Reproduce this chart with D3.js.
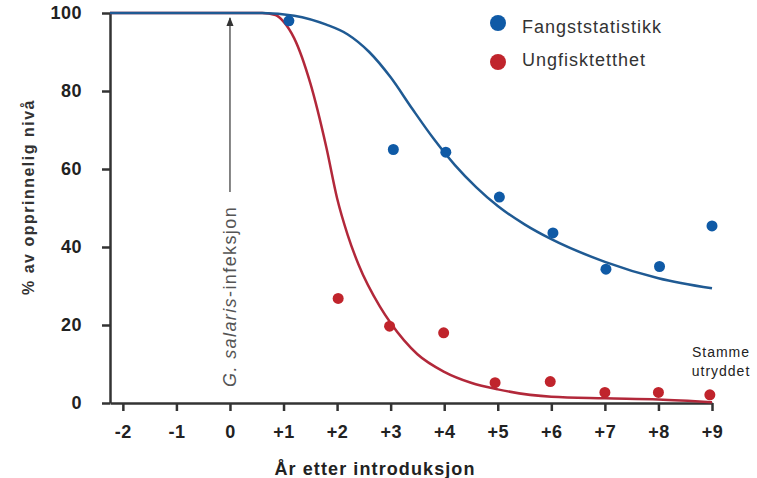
<!DOCTYPE html>
<html>
<head>
<meta charset="utf-8">
<script src="https://cdn.jsdelivr.net/npm/d3@7"></script>
<style>
  body { margin: 0; background: #fff; }
  svg { display: block; font-family: "Liberation Sans", Arial, sans-serif; }
</style>
</head>
<body>
<svg id="chart"></svg>
<script>
// observed points
const fangstX = [1.1, 3.05, 4.03, 5.03, 6.03, 7.02, 8.02, 9.0];
const fangstY = [98, 65, 64.3, 52.8, 43.6, 34.3, 35.0, 45.4];
const ungX = [2.02, 2.98, 3.99, 4.95, 5.98, 7.0, 8.0, 8.96];
const ungY = [26.8, 19.7, 18.0, 5.2, 5.5, 2.7, 2.7, 2.1];

// fitted curves
const fangstCurveX = [-2.24, 0, 0.6, 1.2, 1.8, 2.2, 2.6, 3.0, 3.4, 3.8, 4.2, 4.6, 5.0, 5.5, 6, 7, 8, 9];
const fangstCurveY = [100, 100, 100, 99.3, 97, 94.5, 90, 83.5, 75.5, 67.8, 61, 55.3, 50.5, 45.8, 42, 36.2, 32, 29.4];
const ungCurveX = [-2.24, 0, 0.6, 0.85, 1.0, 1.2, 1.5, 1.8, 2.0, 2.2, 2.4, 2.8, 3.0, 3.5, 4.0, 4.5, 5, 6, 7, 8, 9];
const ungCurveY = [100, 100, 100, 99.5, 97.8, 93.5, 82, 65.5, 52.5, 43, 35.5, 24.7, 20.5, 12.5, 8, 5.2, 3.5, 1.6, 1.2, 0.9, 0.2];

const xTicks = [-2, -1, 0, 1, 2, 3, 4, 5, 6, 7, 8, 9];
const yTicks = [0, 20, 40, 60, 80, 100];
const seriesNames = ["Fangststatistikk", "Ungfisktetthet"];

const width = 757, height = 478;
const blueDot = "#0f5aa6", blueLine = "#1f5a93";
const redDot = "#c0242c", redLine = "#b2283a";

const svg = d3.select("#chart").attr("width", width).attr("height", height);

const x = d3.scaleLinear().domain([-2.24, 9]).range([110, 712]);
const y = d3.scaleLinear().domain([0, 100]).range([403, 13]);

const xAxis = d3.axisBottom(x)
  .tickValues(xTicks)
  .tickSize(8).tickSizeOuter(0).tickPadding(14)
  .tickFormat(d => d > 0 ? "+" + d : String(d));
const yAxis = d3.axisLeft(y)
  .tickValues(yTicks)
  .tickSize(8).tickSizeOuter(0).tickPadding(20);

const gx = svg.append("g").attr("transform", "translate(0,403)").call(xAxis);
const gy = svg.append("g").attr("transform", "translate(110,0)").call(yAxis);

[gx, gy].forEach(g => {
  g.select(".domain").attr("stroke", "#333").attr("stroke-width", 2.5);
  g.selectAll(".tick line").attr("stroke", "#333").attr("stroke-width", 2.5);
  g.selectAll(".tick text")
   .attr("fill", "#222")
   .style("font-size", "18px")
   .style("font-weight", "bold")
   .style("letter-spacing", "0.5px")
   .style("font-family", "'Liberation Sans', Arial, sans-serif");
});

// annotation arrow
svg.append("defs").append("marker")
   .attr("id", "arrow")
   .attr("viewBox", "0 0 10 10")
   .attr("refX", 9).attr("refY", 5)
   .attr("markerWidth", 7).attr("markerHeight", 7)
   .attr("orient", "auto")
   .append("path").attr("d", "M0,1 L10,5 L0,9 Z").attr("fill", "#333");

svg.append("line")
   .attr("x1", x(0)).attr("x2", x(0))
   .attr("y1", 192).attr("y2", 18)
   .attr("stroke", "#444").attr("stroke-width", 1.3)
   .attr("marker-end", "url(#arrow)");

const ann = svg.append("text")
   .attr("transform", `translate(${x(0) + 6},387) rotate(-90)`)
   .attr("fill", "#555")
   .style("font-size", "18px")
   .style("letter-spacing", "1.4px");
ann.append("tspan").style("font-style", "italic").text("G. salaris");
ann.append("tspan").text("-infeksjon");

// curves
const line = d3.line()
  .x(d => x(d[0]))
  .y(d => y(d[1]))
  .curve(d3.curveMonotoneX);

svg.append("path")
   .datum(d3.zip(ungCurveX, ungCurveY))
   .attr("fill", "none").attr("stroke", redLine).attr("stroke-width", 2.5)
   .attr("d", line);

svg.append("path")
   .datum(d3.zip(fangstCurveX, fangstCurveY))
   .attr("fill", "none").attr("stroke", blueLine).attr("stroke-width", 2.5)
   .attr("d", line);

// points
svg.selectAll(".fangst")
   .data(d3.zip(fangstX, fangstY))
   .enter().append("circle")
   .attr("class", "fangst")
   .attr("cx", d => x(d[0])).attr("cy", d => y(d[1]))
   .attr("r", 5.5).attr("fill", blueDot);

svg.selectAll(".ung")
   .data(d3.zip(ungX, ungY))
   .enter().append("circle")
   .attr("class", "ung")
   .attr("cx", d => x(d[0])).attr("cy", d => y(d[1]))
   .attr("r", 5.5).attr("fill", redDot);

// legend
const legend = svg.append("g");
[blueDot, redDot].forEach((c, i) => {
  legend.append("circle").attr("cx", 498).attr("cy", 23 + i * 39).attr("r", 8).attr("fill", c);
  legend.append("text")
        .attr("x", 522).attr("y", 33 + i * 33)
        .attr("fill", "#333")
        .style("font-size", "18px")
        .style("letter-spacing", "1px")
        .text(seriesNames[i]);
});

// note at the end
const note = svg.append("text")
   .attr("text-anchor", "middle")
   .attr("fill", "#222")
   .style("font-size", "14px")
   .style("letter-spacing", "1px");
note.append("tspan").attr("x", 721).attr("y", 357).text("Stamme");
note.append("tspan").attr("x", 721).attr("y", 376).text("utryddet");

// axis titles
svg.append("text")
   .attr("x", 375).attr("y", 475)
   .attr("text-anchor", "middle")
   .attr("fill", "#222")
   .style("font-size", "18px").style("font-weight", "bold")
   .style("letter-spacing", "1.1px")
   .text("År etter introduksjon");

svg.append("text")
   .attr("transform", "translate(34,197) rotate(-90)")
   .attr("text-anchor", "middle")
   .attr("fill", "#333")
   .style("font-size", "16px").style("font-weight", "bold")
   .style("letter-spacing", "1.5px")
   .text("% av opprinnelig nivå");
</script>
</body>
</html>
